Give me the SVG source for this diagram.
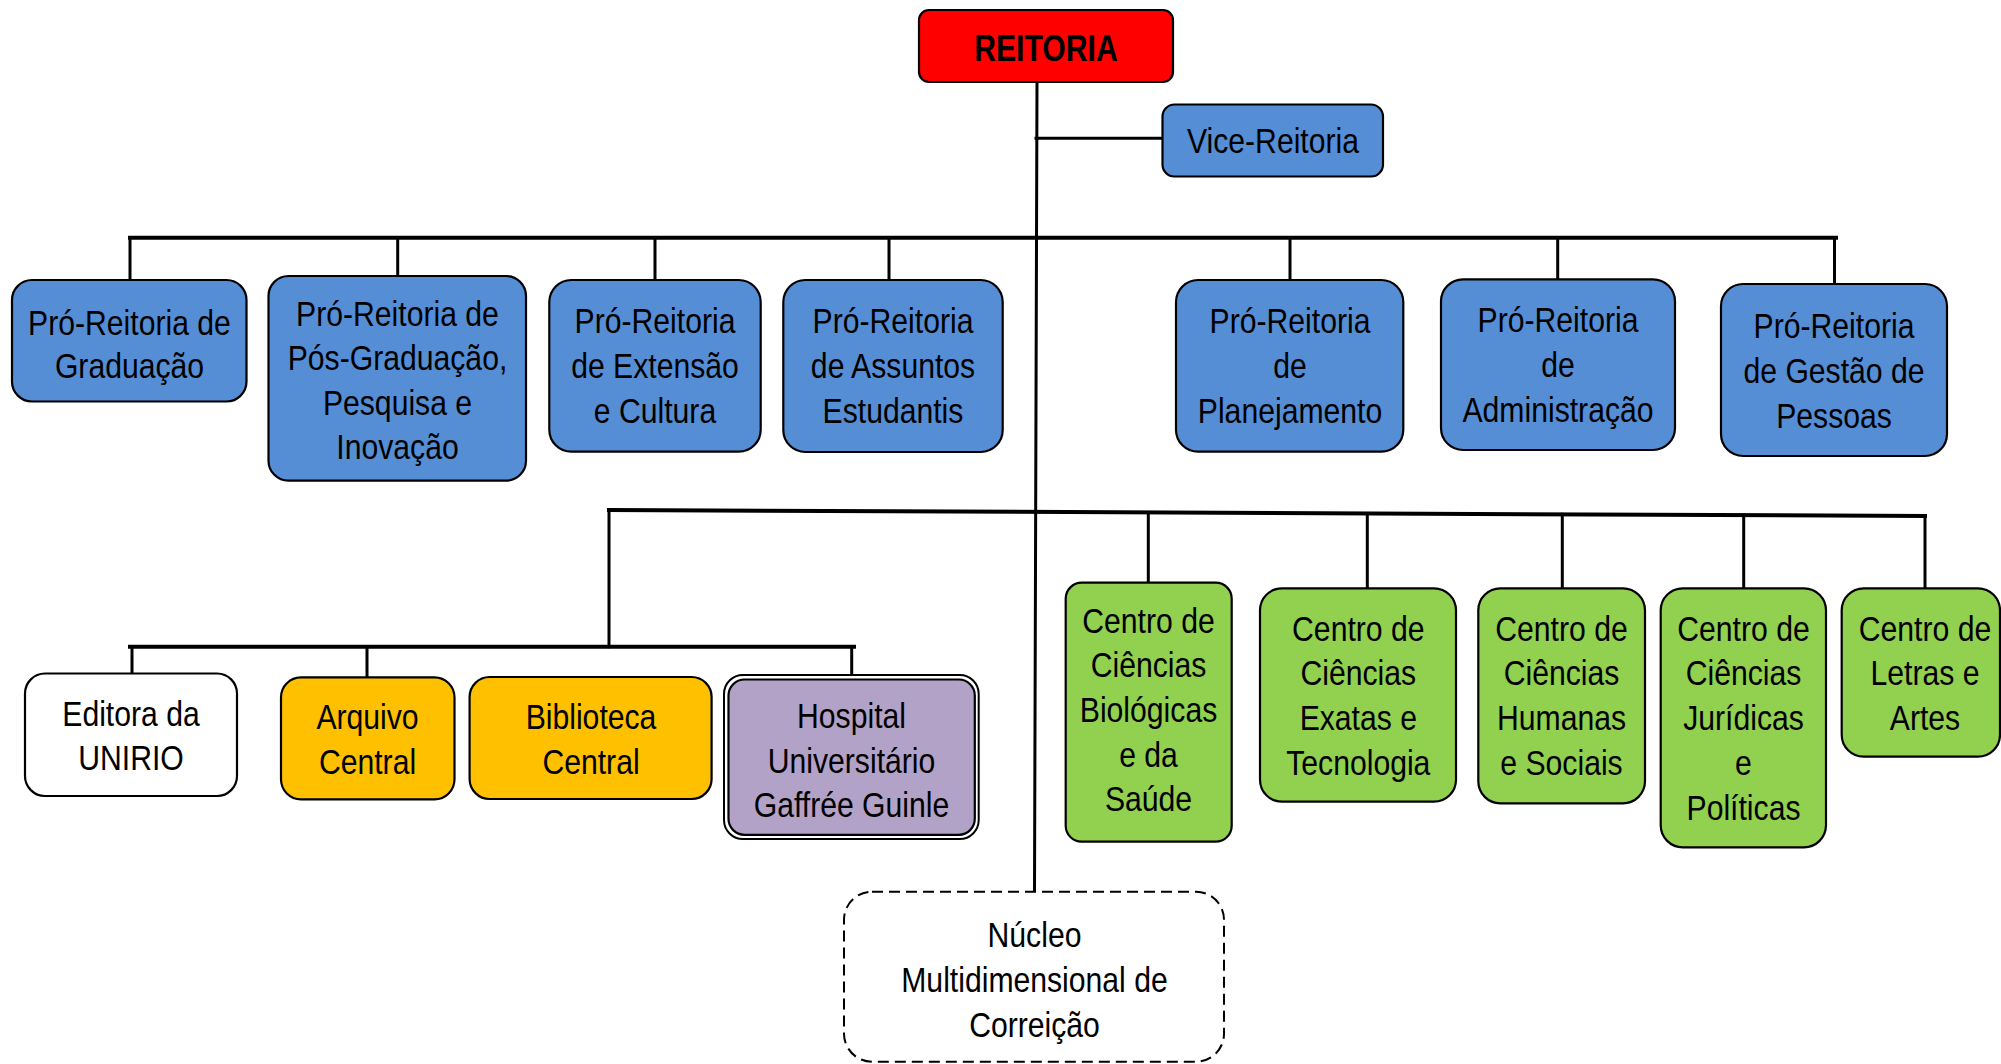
<svg xmlns="http://www.w3.org/2000/svg" width="2001" height="1064" viewBox="0 0 2001 1064">
<style>
.bx{stroke:#000;stroke-width:2.2}
.red{fill:#FF0000}
.blue{fill:#558ED5}
.green{fill:#92D050}
.orange{fill:#FFC000}
.purple{fill:#B3A2C7}
.white{fill:#FFFFFF}
.dash{fill:#FFFFFF;stroke:#000;stroke-width:2;stroke-dasharray:11 6}
text{font-family:'Liberation Sans',Arial,sans-serif;font-size:35px;text-anchor:middle;fill:#000}
.bold{font-weight:bold;font-size:37px}
.conn line{stroke:#000;stroke-width:3;stroke-linecap:square}
.conn line.bus{stroke-width:4}
</style>
<rect x="0" y="0" width="2001" height="1064" fill="#FFFFFF"/>
<g id="connectors" class="conn">
<line x1="1037" y1="82" x2="1034.5" y2="891"/>
<line x1="1036" y1="138.3" x2="1162" y2="138.3"/>
<line class="bus" x1="130" y1="237.7" x2="1836" y2="237.7"/>
<line x1="130" y1="238" x2="130" y2="280"/>
<line x1="397.7" y1="238" x2="397.7" y2="276"/>
<line x1="655" y1="238" x2="655" y2="280"/>
<line x1="889" y1="238" x2="889" y2="280"/>
<line x1="1290" y1="238" x2="1290" y2="280"/>
<line x1="1557.7" y1="238" x2="1557.7" y2="279"/>
<line x1="1834.5" y1="238" x2="1834.5" y2="284"/>
<line class="bus" x1="609" y1="510" x2="1925" y2="516"/>
<line x1="609" y1="510" x2="609" y2="646.7"/>
<line class="bus" x1="130" y1="646.7" x2="854" y2="646.7"/>
<line x1="132" y1="647" x2="132" y2="673.5"/>
<line x1="367" y1="647" x2="367" y2="677"/>
<line x1="851.7" y1="647" x2="851.7" y2="675"/>
<line x1="1148.3" y1="512.5" x2="1148.3" y2="582.7"/>
<line x1="1367.3" y1="513.5" x2="1367.3" y2="588.3"/>
<line x1="1562.3" y1="514.3" x2="1562.3" y2="588.3"/>
<line x1="1743.7" y1="515.2" x2="1743.7" y2="588.3"/>
<line x1="1925" y1="516" x2="1925" y2="588.3"/>
</g>
<g id="reitoria">
<rect class="bx red" x="919" y="10" width="254" height="72" rx="10"/>
<g transform="translate(1046 0) scale(0.815 1)"><text class="bold" x="0" y="61.5">REITORIA</text></g>
</g>
<g id="vice-reitoria">
<rect class="bx blue" x="1162.5" y="104.5" width="220.5" height="72" rx="12"/>
<g transform="translate(1273 0) scale(0.862 1)"><text x="0" y="153.3">Vice-Reitoria</text></g>
</g>
<g id="prograd">
<rect class="bx blue" x="12" y="280" width="234.5" height="121.5" rx="20"/>
<g transform="translate(129.5 0) scale(0.862 1)"><text><tspan x="0" y="335">Pró-Reitoria de</tspan><tspan x="0" y="378.5">Graduação</tspan></text></g>
</g>
<g id="proppg">
<rect class="bx blue" x="268.5" y="276" width="257.5" height="204.7" rx="20"/>
<g transform="translate(397.5 0) scale(0.862 1)"><text><tspan x="0" y="326">Pró-Reitoria de</tspan><tspan x="0" y="370.5">Pós-Graduação,</tspan><tspan x="0" y="415">Pesquisa e</tspan><tspan x="0" y="459.5">Inovação</tspan></text></g>
</g>
<g id="proexc">
<rect class="bx blue" x="549.3" y="280" width="211.4" height="171.7" rx="22"/>
<g transform="translate(655 0) scale(0.862 1)"><text><tspan x="0" y="333.3">Pró-Reitoria</tspan><tspan x="0" y="378.3">de Extensão</tspan><tspan x="0" y="423.3">e Cultura</tspan></text></g>
</g>
<g id="prae">
<rect class="bx blue" x="783.3" y="280" width="219.4" height="172" rx="22"/>
<g transform="translate(893 0) scale(0.862 1)"><text><tspan x="0" y="333.3">Pró-Reitoria</tspan><tspan x="0" y="378.3">de Assuntos</tspan><tspan x="0" y="423.3">Estudantis</tspan></text></g>
</g>
<g id="proplan">
<rect class="bx blue" x="1176" y="280" width="227.3" height="171.7" rx="22"/>
<g transform="translate(1290 0) scale(0.862 1)"><text><tspan x="0" y="333.3">Pró-Reitoria</tspan><tspan x="0" y="378.3">de</tspan><tspan x="0" y="423.3">Planejamento</tspan></text></g>
</g>
<g id="proad">
<rect class="bx blue" x="1441" y="279.3" width="234" height="170.7" rx="22"/>
<g transform="translate(1558 0) scale(0.862 1)"><text><tspan x="0" y="332.5">Pró-Reitoria</tspan><tspan x="0" y="377.5">de</tspan><tspan x="0" y="422.5">Administração</tspan></text></g>
</g>
<g id="progepe">
<rect class="bx blue" x="1721" y="284" width="226" height="172" rx="22"/>
<g transform="translate(1834 0) scale(0.862 1)"><text><tspan x="0" y="338.3">Pró-Reitoria</tspan><tspan x="0" y="383.3">de Gestão de</tspan><tspan x="0" y="428">Pessoas</tspan></text></g>
</g>
<g id="editora">
<rect class="bx white" x="25" y="673.5" width="212" height="122.5" rx="20"/>
<g transform="translate(131 0) scale(0.862 1)"><text><tspan x="0" y="726">Editora da</tspan><tspan x="0" y="770">UNIRIO</tspan></text></g>
</g>
<g id="arquivo">
<rect class="bx orange" x="281" y="677.3" width="173.5" height="122" rx="20"/>
<g transform="translate(367.5 0) scale(0.862 1)"><text><tspan x="0" y="729.5">Arquivo</tspan><tspan x="0" y="774">Central</tspan></text></g>
</g>
<g id="biblioteca">
<rect class="bx orange" x="469.6" y="677" width="242" height="122" rx="20"/>
<g transform="translate(591 0) scale(0.862 1)"><text><tspan x="0" y="729.5">Biblioteca</tspan><tspan x="0" y="774">Central</tspan></text></g>
</g>
<g id="hospital">
<rect fill="#FFFFFF" stroke="#000" stroke-width="2" x="724" y="675" width="254.7" height="164" rx="19"/>
<rect class="purple" stroke="#000" stroke-width="2.2" x="728.5" y="679.5" width="246.3" height="155.3" rx="16"/>
<g transform="translate(851.5 0) scale(0.862 1)"><text><tspan x="0" y="728.3">Hospital</tspan><tspan x="0" y="773.3">Universitário</tspan><tspan x="0" y="817">Gaffrée Guinle</tspan></text></g>
</g>
<g id="ccbs">
<rect class="bx green" x="1065.7" y="582.7" width="166" height="259" rx="16"/>
<g transform="translate(1148.5 0) scale(0.862 1)"><text><tspan x="0" y="632.7">Centro de</tspan><tspan x="0" y="677.5">Ciências</tspan><tspan x="0" y="722">Biológicas</tspan><tspan x="0" y="766.7">e da</tspan><tspan x="0" y="811.5">Saúde</tspan></text></g>
</g>
<g id="ccet">
<rect class="bx green" x="1260" y="588.3" width="196" height="213.4" rx="22"/>
<g transform="translate(1358.3 0) scale(0.862 1)"><text><tspan x="0" y="640.7">Centro de</tspan><tspan x="0" y="685">Ciências</tspan><tspan x="0" y="730">Exatas e</tspan><tspan x="0" y="775">Tecnologia</tspan></text></g>
</g>
<g id="cchs">
<rect class="bx green" x="1478.3" y="588.3" width="166.7" height="215" rx="22"/>
<g transform="translate(1561.5 0) scale(0.862 1)"><text><tspan x="0" y="640.7">Centro de</tspan><tspan x="0" y="685">Ciências</tspan><tspan x="0" y="730.5">Humanas</tspan><tspan x="0" y="775">e Sociais</tspan></text></g>
</g>
<g id="ccjp">
<rect class="bx green" x="1660.7" y="588.3" width="165.3" height="259" rx="22"/>
<g transform="translate(1743.5 0) scale(0.862 1)"><text><tspan x="0" y="640.7">Centro de</tspan><tspan x="0" y="685">Ciências</tspan><tspan x="0" y="730.5">Jurídicas</tspan><tspan x="0" y="775">e</tspan><tspan x="0" y="820.5">Políticas</tspan></text></g>
</g>
<g id="cla">
<rect class="bx green" x="1841.7" y="588.3" width="158.3" height="168.4" rx="22"/>
<g transform="translate(1925 0) scale(0.862 1)"><text><tspan x="0" y="640.7">Centro de</tspan><tspan x="0" y="685">Letras e</tspan><tspan x="0" y="730">Artes</tspan></text></g>
</g>
<g id="nucleo">
<rect class="dash" x="844" y="891.7" width="380" height="170" rx="28"/>
<g transform="translate(1034.5 0) scale(0.862 1)"><text><tspan x="0" y="946.7">Núcleo</tspan><tspan x="0" y="991.7">Multidimensional de</tspan><tspan x="0" y="1036.7">Correição</tspan></text></g>
</g>
</svg>
